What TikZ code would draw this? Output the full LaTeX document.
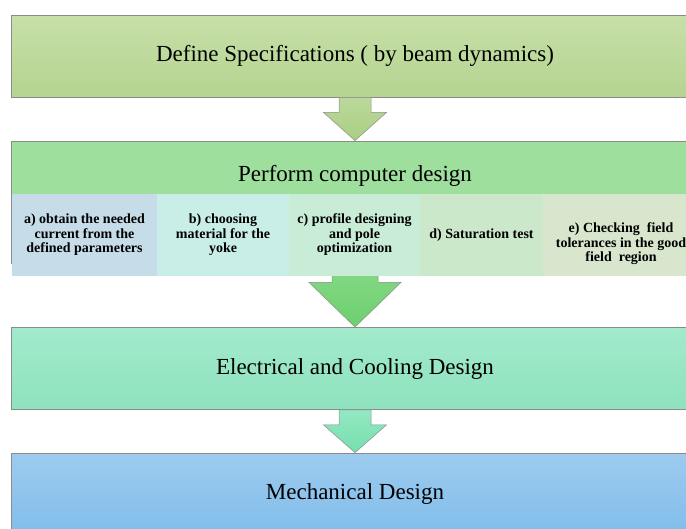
\documentclass[tikz,border=0pt]{standalone}
\usepackage{fontspec}
\setmainfont{Liberation Serif}
\usetikzlibrary{calc}

\definecolor{edgegray}{HTML}{8C8C8C}
\definecolor{specTop}{HTML}{C7DFA8}
\definecolor{specBot}{HTML}{B4D490}
\definecolor{designHead}{HTML}{9FDF9E}
\definecolor{taskA}{HTML}{C6DDE9}
\definecolor{taskB}{HTML}{C9EEE7}
\definecolor{taskC}{HTML}{C9ECD6}
\definecolor{taskD}{HTML}{CCE8CB}
\definecolor{taskE}{HTML}{D7E6CC}
\definecolor{elecTop}{HTML}{A2EACB}
\definecolor{elecBot}{HTML}{8EE2BD}
\definecolor{mechTop}{HTML}{9ECBEF}
\definecolor{mechBot}{HTML}{80BDEA}
\definecolor{arrOneTop}{HTML}{BBD99B}
\definecolor{arrOneBot}{HTML}{A9CF83}
\definecolor{arrTwoTop}{HTML}{86DA86}
\definecolor{arrTwoBot}{HTML}{6CCF6E}
\definecolor{arrThreeTop}{HTML}{93E8C2}
\definecolor{arrThreeBot}{HTML}{76DFAE}

\begin{document}
\begin{tikzpicture}[
    x=1pt,
    y=-1pt,
    stage/.style={
        draw=edgegray,
        line width=0.8pt,
        minimum width=688pt,
        minimum height=82pt,
        inner sep=0pt,
        font=\fontsize{23}{27}\selectfont
    },
    task/.style={
        minimum height=82pt,
        inner sep=0pt,
        align=center,
        font=\fontsize{14}{14.5}\selectfont\bfseries
    },
    blockarrow/.style={
        draw=edgegray,
        line width=0.5pt
    }
]
\useasboundingbox (0,0) rectangle (686,528);
\clip (0,0) rectangle (686,528);

% =====================
% Etapas
% =====================
\node[stage, top color=specTop, bottom color=specBot] (spec) at (355,56)
    {Define Specifications ( by beam dynamics)};
\node[stage, fill=designHead, minimum height=122pt] (design) at (355,202) {};
\node[font=\fontsize{23}{27}\selectfont] (designtext) at (355,176) {Perform computer design};
\node[stage, top color=elecTop, bottom color=elecBot] (elec) at (355,368.5)
    {Electrical and Cooling Design};
\node[stage, top color=mechTop, bottom color=mechBot] (mech) at (355,494)
    {Mechanical Design};

% =====================
% Flechas
% =====================
\draw[blockarrow, top color=arrOneTop, bottom color=arrOneBot]
    ($(spec.south)+(-16,0)$) -- ++(0,15) -- ++(-15.5,0) -- (design.north)
    -- ($(spec.south)+(31.5,15)$) -- ++(-15.5,0) -- ++(0,-15) -- cycle;
\draw[blockarrow, top color=arrTwoTop, bottom color=arrTwoBot]
    ($(design.south)+(-23,0)$) -- ++(0,19) -- ++(-23,0) -- (elec.north)
    -- ($(design.south)+(46,19)$) -- ++(-23,0) -- ++(0,-19) -- cycle;
\draw[blockarrow, top color=arrThreeTop, bottom color=arrThreeBot]
    ($(elec.south)+(-16,0)$) -- ++(0,15) -- ++(-15.5,0) -- (mech.north)
    -- ($(elec.south)+(31.5,15)$) -- ++(-15.5,0) -- ++(0,-15) -- cycle;

% =====================
% Tareas del diseno
% =====================
\node[task, fill=taskA, minimum width=145pt] (taska) at (84.5,235)
    {a) obtain the needed\\current from the\\defined parameters};
\node[task, fill=taskB, minimum width=132pt] (taskb) at (223,235)
    {b) choosing\\material for the\\yoke};
\node[task, fill=taskC, minimum width=131pt] (taskc) at (354.5,235)
    {c) profile designing\\and pole\\optimization};
\node[task, fill=taskD, minimum width=123pt] (taskd) at (481.5,235)
    {d) Saturation test};
\node[task, fill=taskE, minimum width=156pt] (taske) at (621,235) {};
\node[task, minimum height=0pt] (tasketext) at (621,244)
    {e) Checking\ \ field\\tolerances in the good\\field\ \ region};

\end{tikzpicture}
\end{document}
